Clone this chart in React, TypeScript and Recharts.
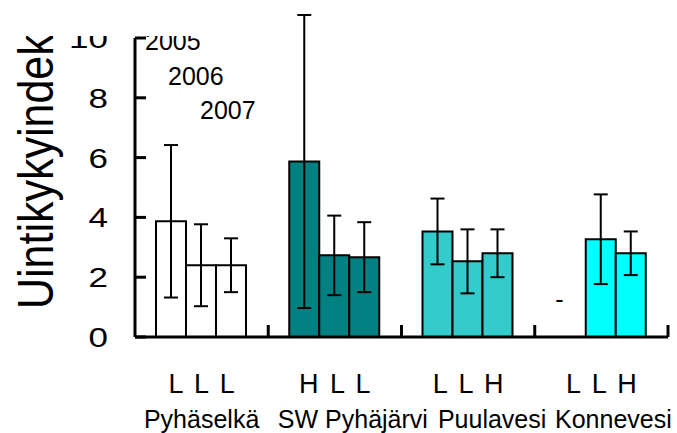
import { BarChart, Bar, XAxis, YAxis, ErrorBar, Cell, ReferenceDot, Customized } from "recharts";

const LAKES = ["Pyhäselkä", "SW Pyhäjärvi", "Puulavesi", "Konnevesi"];
const LAKE_CODES = ["L L L", "H L L", "L L H", "L L H"];
const YEARS = ["2005", "2006", "2007"];

const MEAN_2005 = [3.87, 5.87, 3.53, null];
const ERR_2005 = [2.55, 4.9, 1.1, null];
const MEAN_2006 = [2.4, 2.73, 2.53, 3.27];
const ERR_2006 = [1.37, 1.33, 1.07, 1.5];
const MEAN_2007 = [2.4, 2.67, 2.8, 2.8];
const ERR_2007 = [0.9, 1.17, 0.8, 0.73];

const Y_TICKS = [0, 2, 4, 6, 8, 10];
const MISSING_MARK_Y = 1.27;

const LAKE_COLORS = ["#ffffff", "#008080", "#33cccc", "#00ffff"];
const FONT = "'Liberation Sans', Arial, sans-serif";
// small horizontal nudges for the lake names, they sit a bit off-centre in the original
const NAME_NUDGE = [0, 18, 24, 12];

const data = LAKES.map((lake, i) => ({
  lake,
  y2005: MEAN_2005[i],
  e2005: ERR_2005[i],
  y2006: MEAN_2006[i],
  e2006: ERR_2006[i],
  y2007: MEAN_2007[i],
  e2007: ERR_2007[i],
}));

function YTick({ x, y, payload }: any) {
  return (
    <g clipPath="url(#topCut)">
      <text
        transform={`translate(${x},${y + 10}) scale(1.25,1)`}
        textAnchor="end"
        fontSize={28}
        fontFamily={FONT}
        fill="#000"
      >
        {payload.value}
      </text>
    </g>
  );
}

// category labels + the short separator tick at the right edge of each band
function XTick({ x, y, index, payload }: any) {
  const edge = x + (payload.offset || 0);
  return (
    <g fontFamily={FONT} fill="#000">
      <line x1={edge} x2={edge} y1={y} y2={y - 12} stroke="#000" strokeWidth={3} />
      <text x={x} y={y + 56} textAnchor="middle" fontSize={27} wordSpacing={4}>
        {LAKE_CODES[index]}
      </text>
      <text x={x + NAME_NUDGE[index]} y={y + 91} textAnchor="middle" fontSize={25}>
        {LAKES[index]}
      </text>
    </g>
  );
}

function YTitle({ viewBox }: any) {
  const bx = viewBox.x + 53;
  const by = viewBox.y + viewBox.height - 28;
  return (
    <g clipPath="url(#topCut)">
      <text
        transform={`translate(${bx},${by}) rotate(-90) scale(1,1.15)`}
        fontSize={43}
        fontFamily={FONT}
        fill="#000"
      >
        Uintikykyindeksi
      </text>
    </g>
  );
}

function YearKey() {
  const spots = [
    [145, 50],
    [168, 85],
    [200, 119],
  ];
  return (
    <g>
      <defs>
        <clipPath id="topCut">
          <rect x={0} y={36} width={677} height={400} />
        </clipPath>
      </defs>
      <g clipPath="url(#topCut)" fontFamily={FONT} fontSize={25} fill="#000">
        {YEARS.map((yr, i) => (
          <text key={yr} x={spots[i][0]} y={spots[i][1]}>
            {yr}
          </text>
        ))}
      </g>
    </g>
  );
}

export default function App() {
  const series = [
    { key: "y2005", err: "e2005", name: YEARS[0] },
    { key: "y2006", err: "e2006", name: YEARS[1] },
    { key: "y2007", err: "e2007", name: YEARS[2] },
  ];

  return (
    <div style={{ position: "absolute", left: 0, top: 0, background: "#fff" }}>
      <BarChart
        width={677}
        height={433}
        data={data}
        margin={{ top: 38, right: 9, bottom: 0, left: 0 }}
        barCategoryGap={21}
        barGap={0}
      >
        <XAxis
          dataKey="lake"
          height={96}
          interval={0}
          axisLine={{ stroke: "#000", strokeWidth: 3 }}
          tickLine={false}
          tickSize={0}
          tickMargin={0}
          tick={<XTick />}
        />
        <YAxis
          width={135}
          domain={[0, 10]}
          ticks={Y_TICKS}
          interval={0}
          allowDataOverflow
          axisLine={{ stroke: "#000", strokeWidth: 3 }}
          tickLine={{ stroke: "#000", strokeWidth: 3 }}
          tickSize={-11}
          tickMargin={38}
          tick={<YTick />}
          label={<YTitle />}
        />
        {series.map((s) => (
          <Bar
            key={s.key}
            dataKey={s.key}
            name={s.name}
            stroke="#000"
            strokeWidth={2}
            isAnimationActive={false}
          >
            {data.map((_, i) => (
              <Cell key={i} fill={LAKE_COLORS[i]} />
            ))}
            <ErrorBar dataKey={s.err} direction="y" width={7} stroke="#000" strokeWidth={2} />
          </Bar>
        ))}
        <ReferenceDot
          x="Konnevesi"
          y={MISSING_MARK_Y}
          r={0}
          label={{ value: "-", position: "center", dx: -42, fontSize: 25, fill: "#000", fontFamily: FONT }}
        />
        <Customized component={YearKey} />
      </BarChart>
    </div>
  );
}
